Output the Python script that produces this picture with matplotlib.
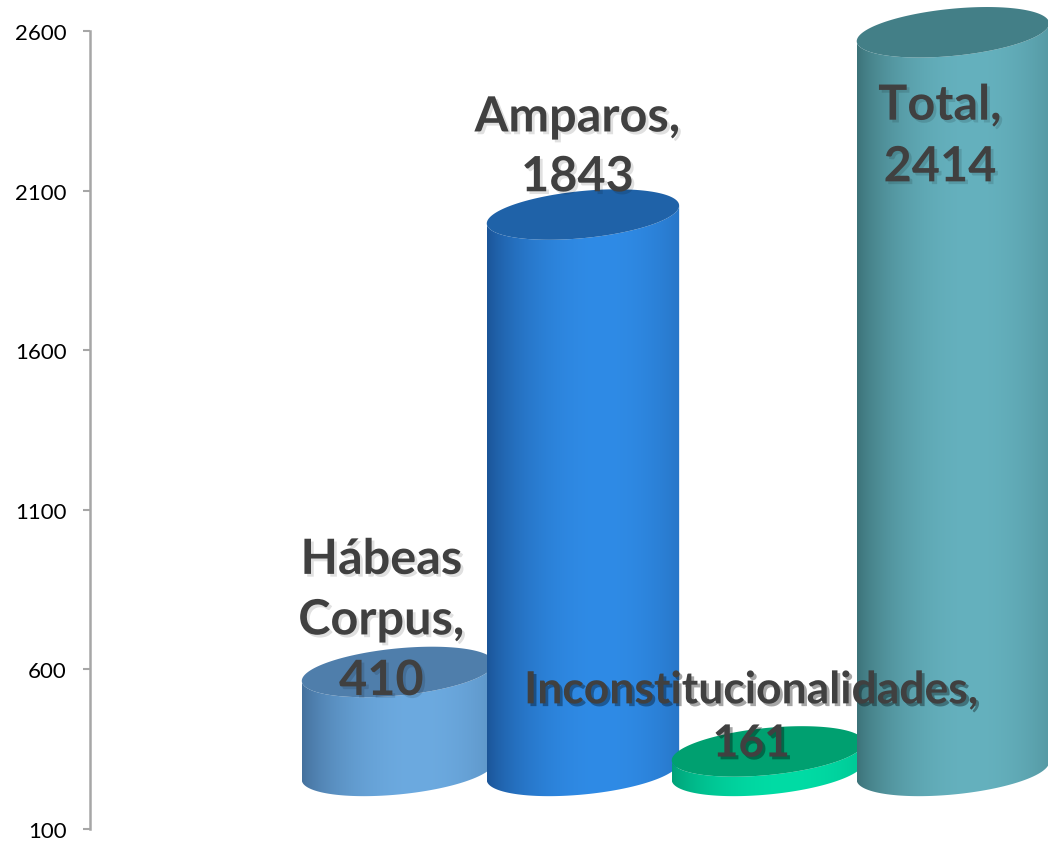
import numpy as np
import matplotlib
matplotlib.use("Agg")
import matplotlib.pyplot as plt
from matplotlib.patches import Polygon
import matplotlib.patheffects as pe

# data
categories = ["Hábeas\nCorpus", "Amparos", "Inconstitucionalidades", "Total"]
values = [410, 1843, 161, 2414]
y_ticks = [100, 600, 1100, 1600, 2100, 2600]

# colours: (side dark, side light, top)
colours = [
    ("#44709c", "#6caae0", "#4f7eab"),
    ("#1b5497", "#2f8be6", "#1f62a8"),
    ("#00a077", "#00dca5", "#00a070"),
    ("#3c7278", "#65b1be", "#437f87"),
]

# label layout: (dx, dy from cylinder top, font size, line spacing, shadow alpha)
label_layout = [
    (-0.09, 163, 35, 1.42, 0.12),
    (-0.03, 212, 35, 1.40, 0.12),
    (-0.09, 108, 32, 1.40, 0.35),
    (-0.07, -325, 35, 1.45, 0.12),
]

floor = 100
depth = 182      # 3d floor offset in axis units
rad = 0.52       # cylinder half width (x units)
eb = 74          # ellipse half height (y units)
es = 28          # ellipse tilt (y units)

plt.rcParams["font.family"] = ["Lato", "DejaVu Sans"]

fig = plt.figure(figsize=(10.48, 8.45), dpi=100)
ax = fig.add_axes([90 / 1048, 15 / 845, 958 / 1048, 830 / 845])


def ellipse(cx, cy, t):
    return cx + rad * np.cos(t), cy + eb * np.sin(t) + es * np.cos(t)


def shade(dark, light, n=200):
    d = np.array(matplotlib.colors.to_rgb(dark))
    l = np.array(matplotlib.colors.to_rgb(light))
    u = np.linspace(-1, 1, n)
    w = np.clip(1 - ((u - 0.2) / 1.2) ** 2, 0, 1) ** 0.8
    return (d[None, :] * (1 - w[:, None]) + l[None, :] * w[:, None])[None, :, :]


for i, (v, (dark, light, top_c)) in enumerate(zip(values, colours)):
    cx = i
    y0 = floor + depth
    y1 = v + depth
    lo = np.linspace(np.pi, 2 * np.pi, 120)
    bx, by = ellipse(cx, y0, lo)
    tx, ty = ellipse(cx, y1, lo[::-1])
    side = Polygon(np.column_stack([np.r_[bx, tx], np.r_[by, ty]]),
                   closed=True, facecolor="none", edgecolor="none")
    ax.add_patch(side)
    img = ax.imshow(shade(dark, light), extent=[cx - rad, cx + rad, y0 - eb - es - 5, y1 + eb + es],
                    aspect="auto", origin="lower", interpolation="bilinear", zorder=2 + i)
    img.set_clip_path(side)
    full = np.linspace(0, 2 * np.pi, 240)
    ex, ey = ellipse(cx, y1, full)
    ax.add_patch(Polygon(np.column_stack([ex, ey]), closed=True, facecolor=top_c,
                         edgecolor="none", zorder=2 + i + 0.5))

for i, (cat, v, (dx, dy, fs, ls, sa)) in enumerate(zip(categories, values, label_layout)):
    ax.text(i + dx, v + depth + dy, f"{cat},\n{v}", ha="center", va="center",
            fontsize=fs, fontweight="bold", color="#404040", linespacing=ls,
            zorder=20,
            path_effects=[pe.SimplePatchShadow(offset=(2, -2), shadow_rgbFace="#000000", alpha=sa),
                          pe.Normal()])

ax.set_xlim(-1.665, 3.514)
ax.set_ylim(100, 100 + 830 / 0.3192)
ax.set_yticks(y_ticks)
ax.tick_params(axis="y", direction="out", length=5, width=1.5, color="#a6a6a6",
               labelsize=16, pad=12, labelcolor="black")
ax.set_xticks([])
for s in ["top", "right", "bottom"]:
    ax.spines[s].set_visible(False)
ax.spines["left"].set_color("#a6a6a6")
ax.spines["left"].set_linewidth(1.8)
ax.spines["left"].set_bounds(100, 2600)
ax.patch.set_alpha(0)

fig.savefig("out.png", dpi=100)
